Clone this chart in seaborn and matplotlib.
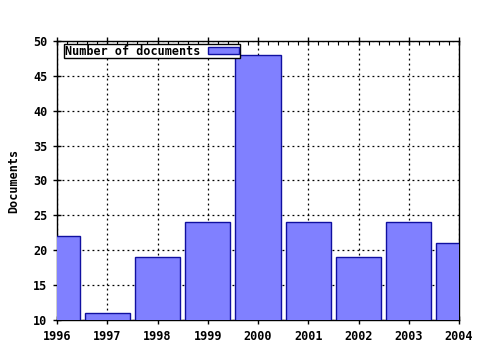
import matplotlib
matplotlib.use("Agg")
import matplotlib.pyplot as plt
import seaborn as sns
import pandas as pd
from matplotlib.ticker import MultipleLocator

years = [1996, 1997, 1998, 1999, 2000, 2001, 2002, 2003, 2004]
documents = [22, 11, 19, 24, 48, 24, 19, 24, 21]

sns.set_style("white")
plt.rcParams['font.family'] = ['DejaVu Sans Mono']
plt.rcParams['font.weight'] = 'bold'
plt.rcParams['text.color'] = 'black'
plt.rcParams['axes.labelcolor'] = 'black'
plt.rcParams['xtick.color'] = 'black'
plt.rcParams['ytick.color'] = 'black'

FS = 8.5
df = pd.DataFrame({"year": [str(y) for y in years], "docs": documents})

fig = plt.figure(figsize=(4.8, 3.5), dpi=100)
ax = fig.add_axes([57/480, 1-320/350, (459-57)/480, (320-41)/350])

sns.barplot(data=df, x="year", y="docs", ax=ax, color="#8080ff", saturation=1,
            width=0.9, edgecolor="#1010a0", linewidth=1.0, label="Number of documents",
            zorder=3)

ax.set_xlim(0, len(years) - 1)
ax.set_ylim(10, 50)
ax.set_xticks(range(len(years)))
ax.set_xticklabels([str(y) for y in years], fontsize=FS, fontweight='bold')
ax.xaxis.set_minor_locator(MultipleLocator(0.2))
ax.yaxis.set_major_locator(MultipleLocator(5))
for lbl in ax.get_yticklabels():
    lbl.set_fontsize(FS)
    lbl.set_fontweight('bold')

ax.grid(True, which='major', color='black', linestyle=(0, (1.5, 2.5)), linewidth=0.9, zorder=0)
ax.set_axisbelow(True)
for s in ax.spines.values():
    s.set_visible(True)
    s.set_color('black')
    s.set_linewidth(1)

ax.tick_params(axis='both', which='major', direction='inout', length=6, width=1,
               top=True, right=False, bottom=True, left=True, pad=4,
               colors='black', labelcolor='black')
ax.tick_params(axis='x', which='minor', direction='in', length=3, width=0.8,
               top=True, bottom=True)

ax.set_xlabel("")
ax.set_ylabel("Documents", fontsize=FS, fontweight='bold', labelpad=9, color='black')

leg = ax.legend(loc='upper left', bbox_to_anchor=((64-57)/402, 1-(44-41)/279),
                frameon=True, fancybox=False, markerfirst=False,
                prop={'family': 'DejaVu Sans Mono', 'weight': 'bold', 'size': FS},
                borderpad=0.05, handlelength=2.6, handleheight=0.55, handletextpad=0.7,
                borderaxespad=0, labelcolor='black')
leg.get_frame().set_edgecolor('black')
leg.get_frame().set_linewidth(1.0)
leg.get_frame().set_alpha(1)

fig.savefig("out.png", dpi=100)
